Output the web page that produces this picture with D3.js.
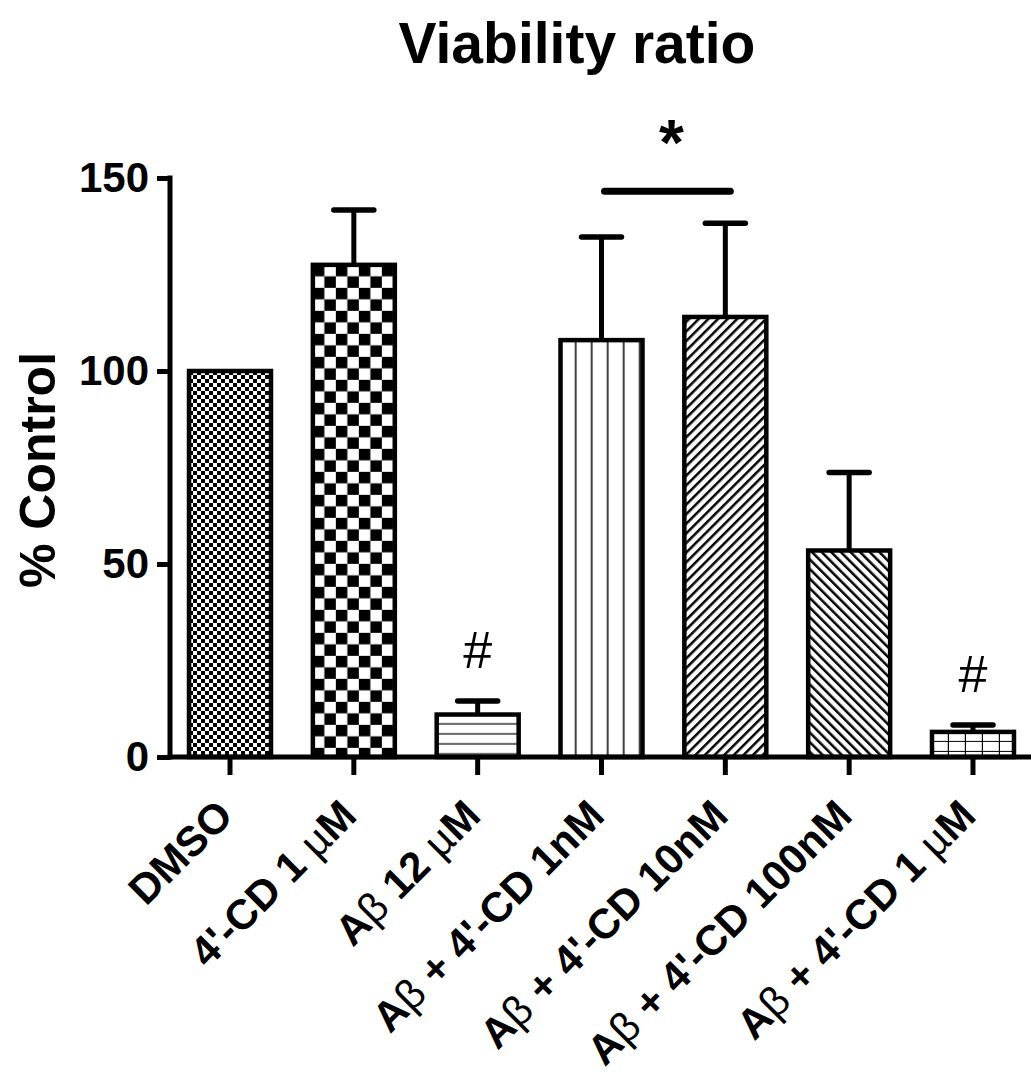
<!DOCTYPE html>
<html><head><meta charset="utf-8">
<script src="https://cdn.jsdelivr.net/npm/d3@7"></script>
<style>body{margin:0;background:#fff}svg{display:block}</style>
</head><body>
<svg id="c" width="1031" height="1089"></svg>
<script>
const categories = ["DMSO", "4'-CD 1 µM", "Aβ 12 µM", "Aβ + 4'-CD 1nM", "Aβ + 4'-CD 10nM", "Aβ + 4'-CD 100nM", "Aβ + 4'-CD 1 µM"];
const means = [100, 127.5, 11, 108, 114, 53.5, 6.5];
const errors = [0, 14.2, 3.5, 26.7, 24.3, 20.2, 1.8];
const yTicks = [0, 50, 100, 150];
const fills = ["checkFine", "checkCoarse", "hLines", "vLines", "diagUp", "diagDown", "grid"];
const sigPair = [3, 4];
const sigSymbol = "*";
const hashBars = [2, 6];
const titleText = "Viability ratio";
const yLabel = "% Control";

const svg = d3.select("#c");
const FONT = "'Liberation Sans', Arial, Helvetica, sans-serif";
const y = d3.scaleLinear().domain([0, 150]).range([757, 178]);
const x = d3.scaleBand().domain(categories).range([168.1, 1034.9]).paddingInner(0.338).paddingOuter(0.169);
const bw = x.bandwidth();

const defs = svg.append("defs");
function pat(id, i, w, h, draw, transform) {
  const p = defs.append("pattern").attr("id", id + i).attr("patternUnits", "userSpaceOnUse")
    .attr("x", x(categories[i])).attr("y", y(means[i])).attr("width", w).attr("height", h);
  if (transform) p.attr("patternTransform", transform);
  p.append("rect").attr("width", w).attr("height", h).attr("fill", "#fff");
  draw(p);
}
categories.forEach((c, i) => {
  const f = fills[i];
  if (f === "checkFine") pat(f, i, 8, 8, p => {
    p.append("rect").attr("x", 0).attr("y", 0).attr("width", 4).attr("height", 4).attr("fill", "#000");
    p.append("rect").attr("x", 4).attr("y", 4).attr("width", 4).attr("height", 4).attr("fill", "#000");
  });
  if (f === "checkCoarse") pat(f, i, 23, 23, p => {
    p.append("rect").attr("x", 0).attr("y", 0).attr("width", 11.5).attr("height", 11.5).attr("fill", "#000");
    p.append("rect").attr("x", 11.5).attr("y", 11.5).attr("width", 11.5).attr("height", 11.5).attr("fill", "#000");
  });
  if (f === "hLines") pat(f, i, 10, 10, p => {
    p.append("rect").attr("x", 0).attr("y", 8.8).attr("width", 10).attr("height", 2.6).attr("fill", "#000");
  });
  if (f === "vLines") pat(f, i, 16, 10, p => {
    p.append("rect").attr("x", 14.5).attr("y", 0).attr("width", 3).attr("height", 10).attr("fill", "#000");
  });
  if (f === "diagUp") pat(f, i, 6.8, 10, p => {
    p.append("rect").attr("x", 0).attr("y", 0).attr("width", 2.5).attr("height", 10).attr("fill", "#000");
  }, "rotate(45)");
  if (f === "diagDown") pat(f, i, 6.8, 10, p => {
    p.append("rect").attr("x", 0).attr("y", 0).attr("width", 2.5).attr("height", 10).attr("fill", "#000");
  }, "rotate(-45)");
  if (f === "grid") pat(f, i, 17, 10, p => {
    p.append("rect").attr("x", 15.8).attr("y", 0).attr("width", 2.6).attr("height", 10).attr("fill", "#000");
    p.append("rect").attr("x", 0).attr("y", 9).attr("width", 17).attr("height", 2).attr("fill", "#000");
  });
});

// Title
svg.append("text").attr("x", 577).attr("y", 63).attr("text-anchor", "middle")
  .attr("font-family", FONT).attr("font-weight", "bold").attr("font-size", 57).text(titleText);

// Y label
svg.append("text").attr("transform", "translate(55,470) rotate(-90)").attr("text-anchor", "middle")
  .attr("font-family", FONT).attr("font-weight", "bold").attr("font-size", 50).text(yLabel);

// Bars
svg.append("g").selectAll("rect").data(categories).join("rect")
  .attr("x", d => x(d)).attr("y", (d, i) => y(means[i]))
  .attr("width", bw).attr("height", (d, i) => y(0) - y(means[i]))
  .attr("fill", (d, i) => `url(#${fills[i]}${i})`)
  .attr("stroke", "#000").attr("stroke-width", 4.5);

// Error bars
const eg = svg.append("g").attr("stroke", "#000");
categories.forEach((c, i) => {
  if (!errors[i]) return;
  const cx = x(c) + bw / 2;
  eg.append("line").attr("x1", cx).attr("x2", cx).attr("y1", y(means[i])).attr("y2", y(means[i] + errors[i]))
    .attr("stroke-width", 5);
  eg.append("line").attr("x1", cx - 20).attr("x2", cx + 20).attr("y1", y(means[i] + errors[i])).attr("y2", y(means[i] + errors[i]))
    .attr("stroke-width", 5.5).attr("stroke-linecap", "round");
});

// Y axis
const yAxis = d3.axisLeft(y).tickValues(yTicks).tickSize(13).tickPadding(8);
const yg = svg.append("g").attr("transform", "translate(170,0)").call(yAxis);
yg.select(".domain").remove();
yg.selectAll(".tick line").attr("stroke", "#000").attr("stroke-width", 5);
yg.selectAll(".tick text").attr("font-family", FONT).attr("font-weight", "bold").attr("font-size", 42).attr("fill", "#000");
svg.append("line").attr("x1", 170).attr("x2", 170).attr("y1", y(150) - 2.5).attr("y2", y(0) + 2.5)
  .attr("stroke", "#000").attr("stroke-width", 5);

// X axis
const xAxis = d3.axisBottom(x).tickSize(18).tickFormat("");
const xg = svg.append("g").attr("transform", `translate(0,${y(0)})`).call(xAxis);
xg.select(".domain").remove();
xg.selectAll(".tick line").attr("stroke", "#000").attr("stroke-width", 5);
svg.append("line").attr("x1", 167.5).attr("x2", 1031).attr("y1", y(0)).attr("y2", y(0))
  .attr("stroke", "#000").attr("stroke-width", 5);

// X labels
const lg = svg.append("g");
categories.forEach(c => {
  const cx = x(c) + bw / 2;
  const t = lg.append("text").attr("transform", `translate(${cx + 5},818) rotate(-45)`)
    .attr("text-anchor", "end").attr("font-family", FONT).attr("font-weight", "bold").attr("font-size", 42);
  const parts = c.split(/([µβ])/);
  parts.forEach(p => {
    if (!p) return;
    const ts = t.append("tspan").text(p);
    if (p === "µ" || p === "β") ts.attr("font-weight", "normal");
  });
});

// Significance
const x1 = x(categories[sigPair[0]]) + bw / 2, x2 = x(categories[sigPair[1]]) + bw / 2;
const topCap = Math.max(means[sigPair[0]] + errors[sigPair[0]], means[sigPair[1]] + errors[sigPair[1]]);
const sy = y(topCap) - 32;
svg.append("line").attr("x1", x1 + 3).attr("x2", x2 + 5).attr("y1", sy).attr("y2", sy)
  .attr("stroke", "#000").attr("stroke-width", 7).attr("stroke-linecap", "round");
svg.append("text").attr("x", (x1 + x2) / 2 + 8).attr("y", sy - 26).attr("text-anchor", "middle")
  .attr("font-family", FONT).attr("font-weight", "bold").attr("font-size", 64).text(sigSymbol);

hashBars.forEach(i => {
  const cx = x(categories[i]) + bw / 2;
  svg.append("text").attr("x", cx).attr("y", y(means[i] + errors[i]) - 33).attr("text-anchor", "middle")
    .attr("font-family", FONT).attr("font-size", 52).text("#");
});
</script>
</body></html>
